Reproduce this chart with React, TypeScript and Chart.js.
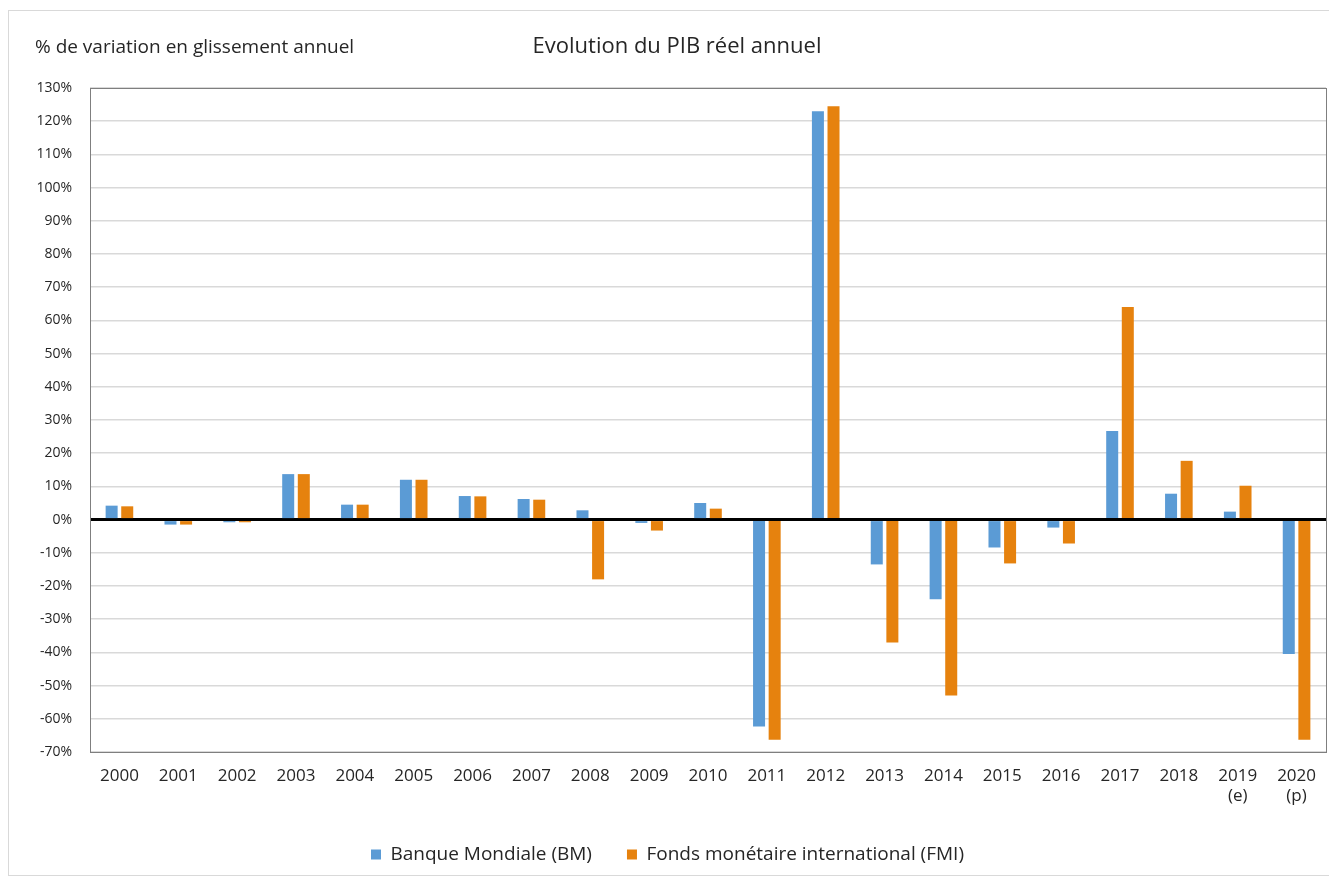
import React, { useEffect, useRef } from "react";
import { Chart, registerables } from "chart.js";

Chart.register(...registerables);

const categories: (string | string[])[] = [
  "2000", "2001", "2002", "2003", "2004", "2005", "2006", "2007", "2008", "2009", "2010",
  "2011", "2012", "2013", "2014", "2015", "2016", "2017", "2018", ["2019", "(e)"], ["2020", "(p)"],
];
const bmValues = [4.2, -1.5, -0.8, 13.7, 4.5, 12, 7.1, 6.2, 2.8, -1, 5, -62.3, 123, -13.5, -24, -8.4, -2.4, 26.7, 7.8, 2.4, -40.5];
const fmiValues = [4, -1.5, -0.8, 13.7, 4.5, 12, 7, 6, -18, -3.3, 3.3, -66.3, 124.5, -37, -53, -13.2, -7.2, 64, 17.7, 10.2, -66.3];
const seriesNames = ["Banque Mondiale (BM)", "Fonds monétaire international (FMI)"];
const titleText = "Evolution du PIB réel annuel";
const axisLabelText = "% de variation en glissement annuel";

const FONT = "'Open Sans', Lato, sans-serif";

export default function App() {
  const ref = useRef<HTMLCanvasElement | null>(null);
  useEffect(() => {
    if (!ref.current) return;
    const textPlugin = {
      id: "texts",
      afterDraw(chart: any) {
        const { ctx, chartArea } = chart;
        ctx.save();
        ctx.strokeStyle = "#7f7f7f";
        ctx.lineWidth = 1;
        ctx.strokeRect(chartArea.left + 0.5, chartArea.top + 0.5, chartArea.right - chartArea.left, chartArea.bottom - chartArea.top);
        ctx.fillStyle = "#262626";
        ctx.textBaseline = "middle";
        ctx.font = `19px ${FONT}`;
        ctx.textAlign = "left";
        ctx.fillText(axisLabelText, 26, 37);
        ctx.font = `22px ${FONT}`;
        ctx.textAlign = "center";
        ctx.fillText(titleText, 668, 36);
        ctx.restore();
      },
    };
    const chart = new Chart(ref.current, {
      type: "bar",
      data: {
        labels: categories,
        datasets: [
          { label: seriesNames[0], data: bmValues, backgroundColor: "#5B9BD5", barPercentage: 0.77, categoryPercentage: 0.53 },
          { label: seriesNames[1], data: fmiValues, backgroundColor: "#E6820E", barPercentage: 0.77, categoryPercentage: 0.53 },
        ],
      },
      options: {
        animation: false,
        responsive: false,
        layout: { padding: { top: 77, right: 4, left: 0, bottom: 1 } },
        plugins: {
          legend: {
            position: "bottom",
            labels: {
              color: "#262626",
              font: { family: FONT, size: 19 },
              boxWidth: 10,
              boxHeight: 10,
              padding: 35,
              useBorderRadius: false,
            },
          },
          tooltip: { enabled: false },
        },
        scales: {
          x: {
            grid: { display: false },
            border: { display: false },
            ticks: { color: "#262626", font: { family: FONT, size: 17 }, padding: 6, maxRotation: 0, autoSkip: false },
            afterFit: (s: any) => { s.height = 58; },
          },
          y: {
            min: -70,
            max: 130,
            ticks: {
              stepSize: 10,
              color: "#262626",
              font: { family: FONT, size: 14 },
              padding: 18,
              callback: (v: any) => `${v}%`,
            },
            grid: {
              drawTicks: false,
              color: (c: any) => (c.tick && c.tick.value === 0 ? "#000000" : "#d9d9d9"),
              lineWidth: (c: any) => (c.tick && c.tick.value === 0 ? 3 : 1.5),
            },
            border: { display: false },
            afterFit: (s: any) => { s.width = 81; },
          },
        },
      },
      plugins: [textPlugin],
    });
    return () => chart.destroy();
  }, []);
  return (
    <div style={{ width: 1323, height: 866, border: "1px solid #d9d9d9", boxSizing: "border-box", marginTop: 2, background: "#fff" }}>
      <canvas ref={ref} width={1321} height={864} style={{ display: "block" }} />
    </div>
  );
}
